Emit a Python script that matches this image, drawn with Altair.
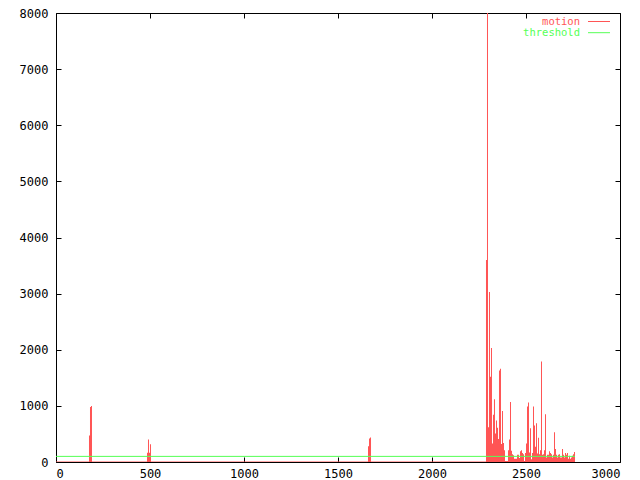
import altair as alt
import pandas as pd

# ---- data ----
X_TICKS = [0, 500, 1000, 1500, 2000, 2500, 3000]
Y_TICKS = [0, 1000, 2000, 3000, 4000, 5000, 6000, 7000, 8000]

FRAME_STEP = 5.32  # one reading every ~5.3 frames

burst_starts = [175.5, 484.0, 1659.6, 2287.2]
burst_1 = [470, 980, 1000]
burst_2 = [163, 402, 163, 315]
burst_3 = [280, 420, 437]
burst_4 = [3600, 8000, 620, 3030, 1520, 2030, 330, 840, 1120, 510,
           740, 610, 410, 1630, 1660, 320, 910, 340, 210, 20,
           20, 20, 210, 400, 1070, 200, 140, 120, 60, 60,
           60, 130, 130, 70, 190, 210, 160, 140, 20, 160,
           330, 990, 1060, 170, 600, 50, 160, 990, 650, 270,
           690, 150, 430, 140, 210, 1790, 130, 140, 210, 850,
           80, 130, 130, 190, 160, 140, 80, 130, 530, 230,
           130, 80, 130, 140, 80, 80, 230, 130, 80, 160,
           130, 160, 60, 110, 60, 80, 110, 140, 180]
bursts = [burst_1, burst_2, burst_3, burst_4]

motion_first_frame = 0
motion_last_frame = 2760.6

threshold_frames = [0, 2760.6]
threshold_values = [100, 100]

series_names = ["motion", "threshold"]
RED = "#ff5555"
GREEN = "#55ff55"
FONT = "DejaVu Sans Mono"

# readings as frame ranges
bar_rows = []
for start, vals in zip(burst_starts, bursts):
    for i, v in enumerate(vals):
        f0 = start + i * FRAME_STEP
        bar_rows.append((f0, f0 + FRAME_STEP, v))
bars_df = pd.DataFrame(bar_rows, columns=["frame", "frame_end", "motion"])
base_df = pd.DataFrame({"frame": [motion_first_frame], "frame_end": [motion_last_frame], "motion": [0]})
thr_df = pd.DataFrame({"frame": threshold_frames, "threshold": threshold_values})

xscale = alt.Scale(domain=[0, 3000], nice=False, zero=False)
yscale = alt.Scale(domain=[0, 8000], nice=False)

ax_common = dict(grid=False, domain=False, tickSize=5, tickColor="black",
                 labelFont=FONT, labelFontSize=12, labelColor="black",
                 title=None, offset=-5, format="d")

motion_bars = alt.Chart(bars_df).mark_bar(color=RED, opacity=1, clip=True).encode(
    x=alt.X("frame:Q", scale=xscale,
            axis=alt.Axis(orient="bottom", values=X_TICKS, labelPadding=6, **ax_common)),
    x2="frame_end:Q",
    y=alt.Y("motion:Q", scale=yscale,
            axis=alt.Axis(orient="left", values=Y_TICKS, labelPadding=8, **ax_common)),
    y2=alt.datum(0),
)

motion_base = alt.Chart(base_df).mark_rule(color=RED, strokeWidth=1, clip=True).encode(
    x=alt.X("frame:Q", scale=xscale, axis=None),
    x2="frame_end:Q",
    y=alt.Y("motion:Q", scale=yscale, axis=None),
)

threshold = alt.Chart(thr_df).mark_line(color=GREEN, strokeWidth=1, clip=True).encode(
    x=alt.X("frame:Q", scale=xscale,
            axis=alt.Axis(orient="top", values=X_TICKS, labels=False, **ax_common)),
    y=alt.Y("threshold:Q", scale=yscale,
            axis=alt.Axis(orient="right", values=Y_TICKS, labels=False, **ax_common)),
)

leg1 = pd.DataFrame({"series": [series_names[0]]})
leg2 = pd.DataFrame({"series": [series_names[1]]})

LEG_Y1 = 8.5
LEG_Y2 = 19.7
leg_text1 = alt.Chart(leg1).mark_text(
    align="right", baseline="middle", font=FONT, fontSize=10.5, color=RED
).encode(x=alt.value(524), y=alt.value(LEG_Y1), text="series:N")
leg_text2 = alt.Chart(leg2).mark_text(
    align="right", baseline="middle", font=FONT, fontSize=10.5, color=GREEN
).encode(x=alt.value(524), y=alt.value(LEG_Y2), text="series:N")
leg_line1 = alt.Chart(leg1).mark_rule(color=RED, strokeWidth=1).encode(
    x=alt.value(532), x2=alt.value(554), y=alt.value(LEG_Y1))
leg_line2 = alt.Chart(leg2).mark_rule(color=GREEN, strokeWidth=1).encode(
    x=alt.value(532), x2=alt.value(554), y=alt.value(LEG_Y2))

chart = alt.layer(
    motion_bars, motion_base, threshold, leg_text1, leg_text2, leg_line1, leg_line2
).resolve_axis(
    x="independent", y="independent"
).properties(
    width=564, height=449,
    padding={"left": 48, "top": 5, "right": 12, "bottom": 18},
    autosize=alt.AutoSizeParams(type="none"),
    background="white",
).configure_view(
    stroke="black", strokeWidth=1
)

chart.save("out.html", embed_options={"renderer": "svg", "actions": False})
